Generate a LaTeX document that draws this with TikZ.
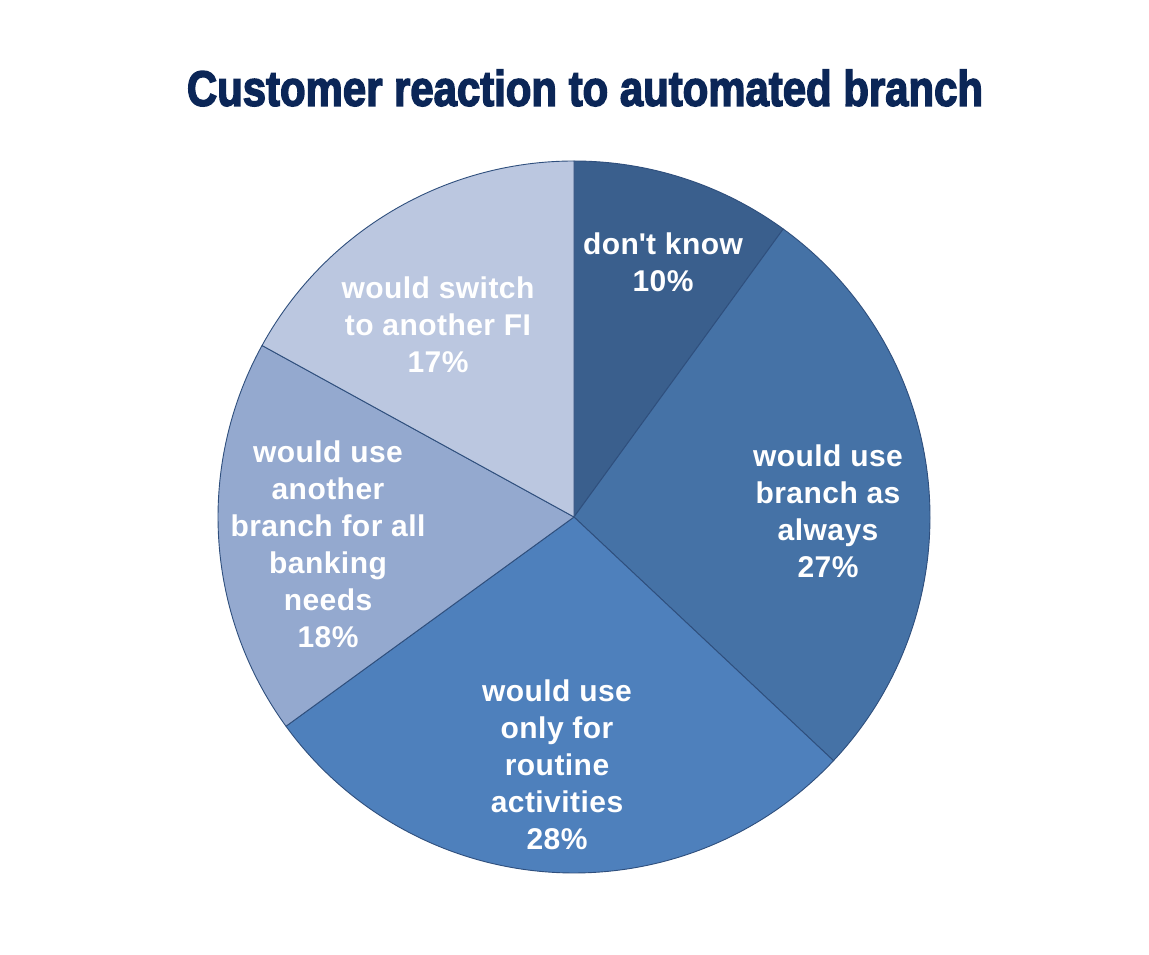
\documentclass[tikz,border=0pt]{standalone}
\usepackage{fontspec}
\setmainfont{Liberation Sans}[LetterSpace=1.5]
\newfontfamily\titlefont[FakeBold=3.2]{Liberation Sans Bold}
\usepackage{xcolor}
\usepackage{tikz}

\definecolor{titleblue}{HTML}{0B2657}
\definecolor{edgeblue}{HTML}{2F4F7D}
\definecolor{sliceA}{HTML}{3A5F8D}
\definecolor{sliceB}{HTML}{4572A6}
\definecolor{sliceC}{HTML}{4E80BC}
\definecolor{sliceD}{HTML}{94A9CF}
\definecolor{sliceE}{HTML}{BBC7E0}

\begin{document}
\begin{tikzpicture}[x=1pt,y=1pt]

        \edef\rpie{356}
        \tikzstyle{slice}=[draw=edgeblue,line width=0.9pt,line join=round]
        \tikzstyle{slicelabel}=[text=white,align=center,font=\fontsize{30}{37}\selectfont\bfseries,inner sep=0pt]

        \useasboundingbox (0,0) rectangle (1149,954);

        %% Title
        \node[text=titleblue,inner sep=0pt] (title) at (585,866)
            {\resizebox{796pt}{36pt}{\titlefont Customer reaction to automated branch}};

        %% Pie slices, clockwise from the top
        \coordinate (mid) at (574,437);
        \draw[slice,fill=sliceA] (mid) -- ++(90:\rpie) arc[start angle=90,end angle=54,radius=\rpie] -- cycle;
        \draw[slice,fill=sliceB] (mid) -- ++(54:\rpie) arc[start angle=54,end angle=-43.2,radius=\rpie] -- cycle;
        \draw[slice,fill=sliceC] (mid) -- ++(-43.2:\rpie) arc[start angle=-43.2,end angle=-144,radius=\rpie] -- cycle;
        \draw[slice,fill=sliceD] (mid) -- ++(-144:\rpie) arc[start angle=-144,end angle=-208.8,radius=\rpie] -- cycle;
        \draw[slice,fill=sliceE] (mid) -- ++(151.2:\rpie) arc[start angle=151.2,end angle=90,radius=\rpie] -- cycle;

        %% Labels
        \node[slicelabel] (dontknow) at (663,692) {don\textquotesingle t know\\10\%};
        \node[slicelabel] (always) at (828,443) {would use\\branch as\\always\\27\%};
        \node[slicelabel] (routine) at (557,189.5) {would use\\only for\\routine\\activities\\28\%};
        \node[slicelabel] (another) at (328,410) {would use\\another\\branch for all\\banking\\needs\\18\%};
        \node[slicelabel] (switch) at (438,629.5) {would switch\\to another FI\\17\%};

\end{tikzpicture}
\end{document}
